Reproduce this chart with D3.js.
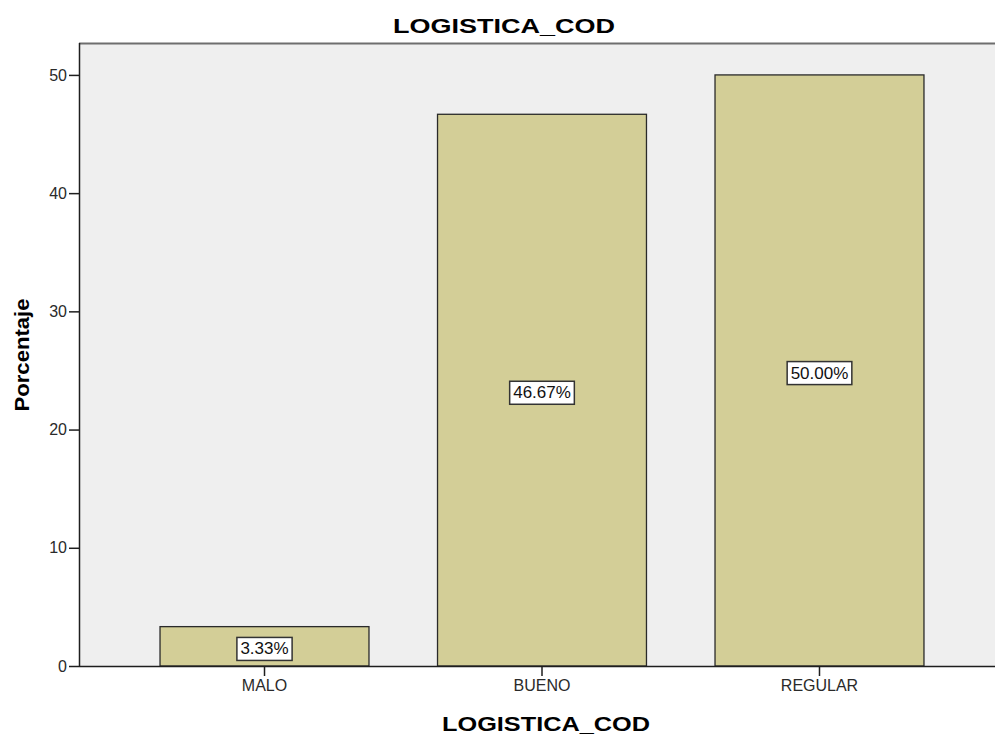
<!DOCTYPE html>
<html>
<head>
<meta charset="utf-8">
<script src="https://cdn.jsdelivr.net/npm/d3@7"></script>
<style>
  body { margin: 0; background: #fff; }
  text { font-family: Arial, "Liberation Sans", sans-serif; }
</style>
</head>
<body>
<div id="chart"></div>
<script>
    // values
    var categories = ["MALO", "BUENO", "REGULAR"],
        percents = [3.33, 46.67, 50.00],
        pctLabels = ["3.33%", "46.67%", "50.00%"],
        yTicks = [0, 10, 20, 30, 40, 50];

    var w = 995,
        h = 738,
        plotLeft = 79,
        plotTop = 43,
        plotBottom = 666,
        plotRight = 1005; // plot runs a bit past the window edge

    var svg = d3.select("#chart")
        .append("svg")
        .attr("width", w)
        .attr("height", h);

    var x = d3.scaleBand()
        .domain(categories)
        .range([plotLeft, plotRight])
        .paddingInner(0.247)
        .paddingOuter(0.292);

    var y = d3.scaleLinear()
        .domain([0, 52.7])
        .range([plotBottom, plotTop]);

    // grey plot area
    svg.append("rect")
        .attr("x", plotLeft)
        .attr("y", plotTop)
        .attr("width", w - plotLeft)
        .attr("height", plotBottom - plotTop)
        .attr("fill", "#efefef");

    // top frame line
    svg.append("line")
        .attr("x1", plotLeft).attr("x2", w)
        .attr("y1", plotTop + 0.5).attr("y2", plotTop + 0.5)
        .attr("stroke", "#6e6e6e").attr("stroke-width", 2);

    // bars
    svg.selectAll("rect.bar")
        .data(percents)
        .enter().append("rect")
        .attr("class", "bar")
        .attr("x", function(d, i) { return x(categories[i]); })
        .attr("y", function(d) { return y(d); })
        .attr("width", x.bandwidth())
        .attr("height", function(d) { return plotBottom - y(d); })
        .attr("fill", "#d3ce97")
        .attr("stroke", "#2a2a2a")
        .attr("stroke-width", 1.3);

    // y axis
    var yAxis = svg.append("g")
        .attr("transform", "translate(" + plotLeft + ",0)")
        .call(d3.axisLeft(y).tickValues(yTicks).tickSize(10).tickPadding(2).tickSizeOuter(0));
    yAxis.select(".domain").attr("stroke", "#1e1e1e").attr("stroke-width", 1.5)
        .attr("d", "M0.5," + plotTop + "V" + plotBottom);
    yAxis.selectAll("line").attr("stroke", "#1e1e1e").attr("stroke-width", 1.5);
    yAxis.selectAll("text").attr("font-size", 16).attr("fill", "#2a2a2a")
        .attr("font-family", "Arial, 'Liberation Sans', sans-serif");

    // x axis
    var xAxis = svg.append("g")
        .attr("transform", "translate(0," + plotBottom + ")")
        .call(d3.axisBottom(x).tickSize(10).tickPadding(4).tickSizeOuter(0));
    xAxis.select(".domain").attr("stroke", "#1e1e1e").attr("stroke-width", 1.5)
        .attr("d", "M" + plotLeft + ",0.5H" + w);
    xAxis.selectAll("line").attr("stroke", "#1e1e1e").attr("stroke-width", 1.5);
    xAxis.selectAll("text").attr("font-size", 16).attr("fill", "#2a2a2a")
        .attr("font-family", "Arial, 'Liberation Sans', sans-serif");

    // value labels in the middle of the bars
    var labels = svg.selectAll("g.lbl")
        .data(percents)
        .enter().append("g")
        .attr("class", "lbl")
        .attr("transform", function(d, i) {
            return "translate(" + (x(categories[i]) + x.bandwidth() / 2) + "," + ((y(d) + plotBottom) / 2 + 2) + ")";
        });

    labels.append("text")
        .attr("text-anchor", "middle")
        .attr("dy", "0.36em")
        .attr("font-size", 17)
        .attr("fill", "#111")
        .text(function(d, i) { return pctLabels[i]; });

    labels.each(function() {
        var g = d3.select(this),
            bb = g.select("text").node().getBBox();
        g.insert("rect", "text")
            .attr("x", bb.x - 3.5)
            .attr("y", bb.y - 2)
            .attr("width", bb.width + 7)
            .attr("height", bb.height + 4)
            .attr("fill", "#fff")
            .attr("stroke", "#333")
            .attr("stroke-width", 1.5);
    });

    // titles (the reference font is a bit wider than Arial, so stretch it)
    svg.append("text")
        .attr("x", 504).attr("y", 33)
        .attr("text-anchor", "middle")
        .attr("font-size", 21).attr("font-weight", "bold")
        .attr("textLength", 222).attr("lengthAdjust", "spacingAndGlyphs")
        .text("LOGISTICA_COD");

    svg.append("text")
        .attr("x", 546).attr("y", 731)
        .attr("text-anchor", "middle")
        .attr("font-size", 20).attr("font-weight", "bold")
        .attr("textLength", 208).attr("lengthAdjust", "spacingAndGlyphs")
        .text("LOGISTICA_COD");

    svg.append("text")
        .attr("transform", "translate(29,355) rotate(-90)")
        .attr("text-anchor", "middle")
        .attr("font-size", 20).attr("font-weight", "bold")
        .attr("textLength", 113).attr("lengthAdjust", "spacingAndGlyphs")
        .text("Porcentaje");
</script>
</body>
</html>
